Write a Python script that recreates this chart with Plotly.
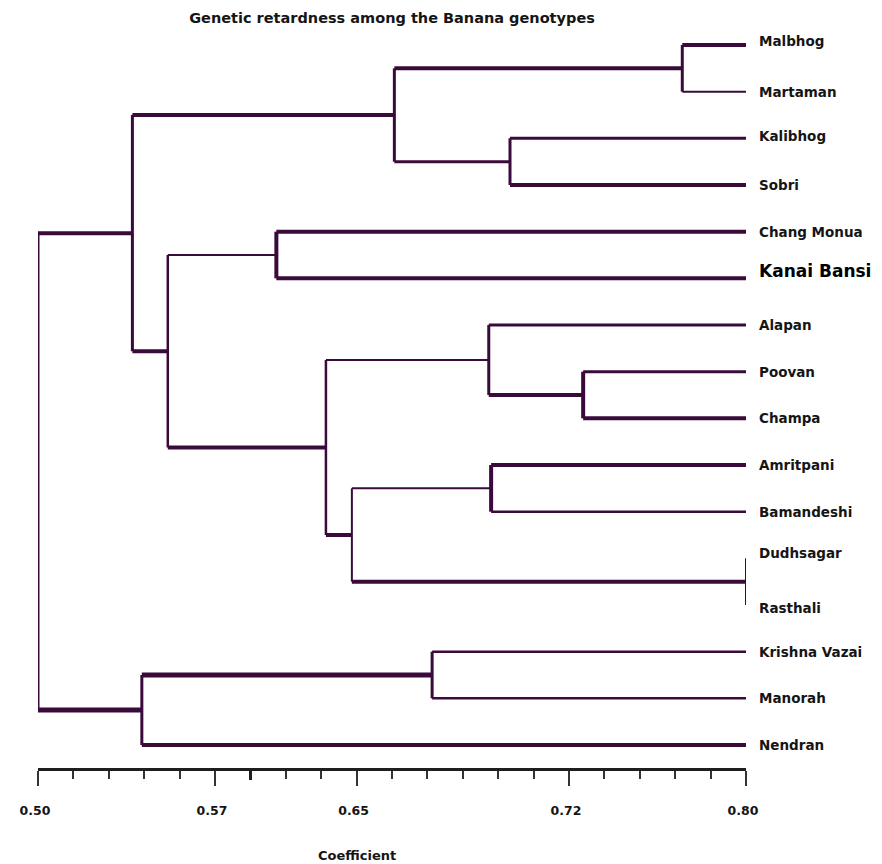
import plotly.graph_objects as go

# ---------------- data ----------------
leaf_names = ["Malbhog", "Martaman", "Kalibhog", "Sobri", "Chang Monua", "Kanai Bansi",
              "Alapan", "Poovan", "Champa", "Amritpani", "Bamandeshi", "Dudhsagar",
              "Rasthali", "Krishna Vazai", "Manorah", "Nendran"]
# merges: (child_a, child_b, similarity coefficient); new cluster ids start at 16
merge_a = [0, 2, 16, 4, 7, 6, 9, 11, 22, 21, 19, 18, 13, 28, 27]
merge_b = [1, 3, 17, 5, 8, 20, 10, 12, 23, 24, 25, 26, 14, 15, 29]
merge_h = [0.773, 0.700, 0.651, 0.601, 0.731, 0.691, 0.692, 0.800,
           0.633, 0.622, 0.555, 0.540, 0.667, 0.544, 0.500]
leaf_level = 0.80
tick_vals = [0.50, 0.575, 0.635, 0.725, 0.80]
tick_text = ["0.50", "0.57", "0.65", "0.72", "0.80"]
title_text = "Genetic retardness among the Banana genotypes"
axis_title = "Coefficient"

# ---------------- styles ----------------
LINE = "#3a0a3a"
TXT = "#151515"
FONT = "DejaVu Sans"
# horizontal line width for the link from each cluster to its parent
hw = {0: 4, 1: 2, 2: 3, 3: 4, 16: 4, 17: 3, 18: 4, 4: 4, 5: 4, 19: 2, 6: 3, 7: 3,
      8: 4, 20: 4, 21: 2, 9: 4, 10: 2.5, 22: 2, 11: 0, 12: 0, 23: 4, 24: 4, 25: 4,
      26: 4, 27: 4, 13: 2.5, 14: 2.5, 28: 5, 15: 4, 29: 5}
vw = {16: 3, 17: 3, 18: 3, 19: 4, 20: 4, 21: 3, 22: 4, 23: 2, 24: 2, 25: 2.5,
      26: 2.5, 27: 3, 28: 3, 29: 3, 30: 3}
label_yshift = {"Malbhog": 4, "Kanai Bansi": 7, "Dudhsagar": 5, "Rasthali": -3,
                "Kalibhog": 2}

# page body has an 8px margin: lay the figure out 8px smaller in each direction
OFF = 8
W, H = 882 - OFF, 864 - OFF
left_px, right_px = 33 - OFF, 746 - OFF
top_px, axis_px = 22 - OFF, 768 - OFF
first_leaf_px = 45 - OFF
spacing = 700 / 15

# ---------------- compute dendrogram geometry ----------------
n = len(leaf_names)
pos_y = {i: float(i) for i in range(n)}
pos_x = {i: leaf_level for i in range(n)}
segments = []  # (x0, y0, x1, y1, width)
for k, (a, b, h) in enumerate(zip(merge_a, merge_b, merge_h)):
    cid = n + k
    pos_y[cid] = (pos_y[a] + pos_y[b]) / 2
    pos_x[cid] = h
    segments.append((h, pos_y[a], h, pos_y[b], vw[cid]))
    for c in (a, b):
        if hw[c] > 0 and pos_x[c] != h:
            segments.append((h, pos_y[c], pos_x[c], pos_y[c], hw[c]))

fig = go.Figure()
by_w = {}
for x0, y0, x1, y1, w in segments:
    xs, ys = by_w.setdefault(w, ([], []))
    xs += [x0, x1, None]
    ys += [y0, y1, None]
for w, (xs, ys) in by_w.items():
    fig.add_trace(go.Scatter(x=xs, y=ys, mode="lines",
                             line=dict(color=LINE, width=w),
                             hoverinfo="skip", showlegend=False))

# invisible trace for the overlay axis (thick tick)
fig.add_trace(go.Scatter(x=[0.5], y=[0], mode="markers", marker=dict(opacity=0),
                         xaxis="x2", hoverinfo="skip", showlegend=False))

for i, name in enumerate(leaf_names):
    big = name == "Kanai Bansi"
    fig.add_annotation(x=leaf_level, y=i, xref="x", yref="y", text=name,
                       showarrow=False, xanchor="left", yanchor="middle",
                       xshift=11, yshift=label_yshift.get(name, 0),
                       font=dict(family=FONT, size=17 if big else 13.5,
                                 color="#000000" if big else TXT, weight="bold"))

fig.add_annotation(x=0.635, y=(axis_px - (855 - OFF)) / (axis_px - top_px),
                   xref="x", yref="paper",
                   text=axis_title, showarrow=False, xanchor="center", yanchor="middle",
                   font=dict(family=FONT, size=13, color=TXT, weight="bold"))

fig.update_layout(
    width=W, height=H,
    margin=dict(l=left_px, r=W - right_px, t=top_px, b=H - axis_px),
    paper_bgcolor="white", plot_bgcolor="white",
    title=dict(text=title_text, x=0.5, xref="paper", xanchor="center",
               y=1 - (18 - OFF) / H, yref="container", yanchor="middle",
               font=dict(family=FONT, size=14.5, color=TXT, weight="bold")),
    xaxis=dict(range=[0.50, 0.80], showgrid=False, zeroline=False,
               showline=True, linewidth=3, linecolor="#1e1e1e",
               tickmode="array", tickvals=tick_vals, ticktext=tick_text,
               ticks="outside", ticklen=15, tickwidth=1.5, tickcolor="#333333",
               ticklabelstandoff=14, ticklabelshift=-3,
               tickfont=dict(family=FONT, size=12.5, color=TXT, weight="bold"),
               minor=dict(tick0=0.50, dtick=0.015, ticks="outside", ticklen=8,
                          tickwidth=1.5, tickcolor="#333333", showgrid=False),
               fixedrange=True),
    xaxis2=dict(range=[0.50, 0.80], overlaying="x", anchor="y", side="bottom",
                showgrid=False, zeroline=False, showline=False,
                tickmode="array", tickvals=[0.59], ticks="outside", ticklen=11,
                tickwidth=3, tickcolor="#1e1e1e", showticklabels=False),
    yaxis=dict(range=[(axis_px - first_leaf_px) / spacing, (top_px - first_leaf_px) / spacing],
               visible=False, showgrid=False, zeroline=False, fixedrange=True),
)

fig.write_html("out.html")
